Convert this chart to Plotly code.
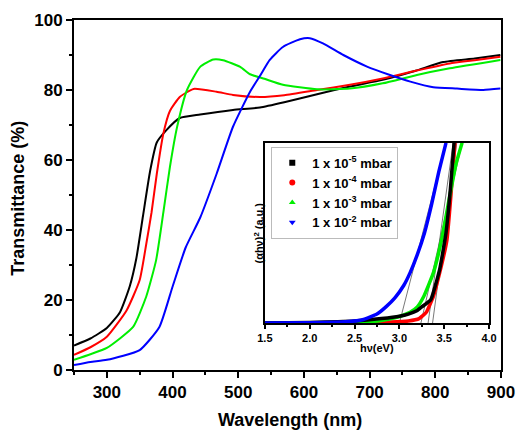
import plotly.graph_objects as go

# ---------------- main panel data: transmittance (%) vs wavelength (nm)
wl_black = [250, 275, 300, 320, 335, 345, 355, 366, 376, 391, 411, 442, 492, 533, 570, 620, 670, 720, 770, 812, 860, 899]
t_black = [7, 9, 12, 16.5, 24, 32, 44, 57, 65, 68.6, 72, 73, 74.3, 75, 76.5, 78.8, 81, 82.9, 85.5, 88, 89, 90]

wl_red = [250, 275, 300, 330, 350, 360, 368, 376, 386, 396, 411, 432, 467, 492, 533, 570, 620, 670, 720, 770, 822, 860, 899]
t_red = [4.3, 6.5, 9.5, 17, 25.7, 36, 45, 56, 67.5, 74, 78, 80.3, 79.5, 78.6, 78, 78.5, 80, 81.5, 83.3, 85.5, 87.6, 88.5, 89.5]

wl_green = [250, 275, 300, 340, 360, 375, 386, 396, 407, 422, 442, 462, 477, 503, 518, 540, 568, 620, 670, 720, 772, 822, 899]
t_green = [2.9, 4.5, 6.3, 12.3, 21, 31.4, 45, 58, 69.5, 80, 86.6, 88.7, 88.5, 86.6, 84.5, 83.2, 81.5, 80.2, 80.4, 81.9, 84.3, 86.2, 88.6]

wl_blue = [250, 275, 300, 350, 380, 400, 420, 442, 467, 492, 518, 533, 548, 568, 594, 609, 629, 660, 696, 731, 762, 797, 833, 873, 899]
t_blue = [1.4, 2.3, 2.9, 5.7, 12.3, 23.8, 35, 43.5, 56, 69.5, 79.5, 84, 88.6, 92.3, 94.5, 94.8, 93.3, 90, 86.7, 84.3, 82.4, 80.8, 80.4, 80, 80.4]

# ---------------- inset data: (alpha h nu)^2 (a.u.) vs h nu (eV)
ev_black = [1.5, 2.0, 2.5, 2.8, 3.0, 3.1, 3.2, 3.25, 3.35, 3.45, 3.52, 3.57, 3.61]
a_black = [0, 0.4, 1.2, 2.5, 3.8, 5, 7, 9, 13, 30, 50, 75, 100]

ev_red = [1.5, 2.5, 2.9, 3.1, 3.22, 3.3, 3.38, 3.45, 3.53, 3.58, 3.62]
a_red = [0, 0.2, 0.6, 1.2, 2.5, 6, 15, 28, 46, 74, 100]

ev_green = [1.5, 2.5, 2.8, 2.95, 3.05, 3.12, 3.2, 3.27, 3.38, 3.47, 3.56, 3.63, 3.7]
a_green = [0, 0.3, 1.5, 3, 4.5, 6, 9, 14.6, 28, 46, 70, 88, 100]

ev_blue = [1.5, 2.0, 2.4, 2.6, 2.75, 2.85, 2.95, 3.05, 3.12, 3.2, 3.28, 3.36, 3.44, 3.52]
a_blue = [0, 0.2, 0.7, 2, 5, 9, 14, 21, 28, 38, 50, 66, 84, 100]

# tangent (extrapolation) lines: baseline intercept and top end
tan_start = [3.0, 3.24, 3.32, 3.37]
tan_end = [3.52, 3.70, 3.60, 3.64]
tan_levels = [0, 100]

legend_labels = ["1 x 10<sup>-5</sup> mbar", "1 x 10<sup>-4</sup> mbar",
                 "1 x 10<sup>-3</sup> mbar", "1 x 10<sup>-2</sup> mbar"]
colors = ["#000000", "#ff0000", "#00ee00", "#0000ff"]
symbols = ["square", "circle", "triangle-up", "triangle-down"]

FONT = "Liberation Sans, Arial, sans-serif"

fig = go.Figure()

main = [(wl_black, t_black), (wl_red, t_red), (wl_green, t_green), (wl_blue, t_blue)]
for (x, y), c in zip(main, colors):
    fig.add_trace(go.Scatter(x=x, y=y, mode="lines",
                             line=dict(color=c, width=2, shape="spline", smoothing=0.5),
                             showlegend=False, xaxis="x", yaxis="y"))

# tangent lines in inset
for x0, x1 in zip(tan_start, tan_end):
    fig.add_trace(go.Scatter(x=[x0, x1], y=tan_levels, mode="lines",
                             line=dict(color="#555555", width=0.8),
                             showlegend=False, xaxis="x2", yaxis="y2"))

inset = [(ev_black, a_black), (ev_red, a_red), (ev_green, a_green), (ev_blue, a_blue)]
order = [1, 2, 0, 3]
for i in order:
    x, y = inset[i]
    fig.add_trace(go.Scatter(x=x, y=y, mode="lines",
                             line=dict(color=colors[i], width=3.5, shape="spline", smoothing=0.4),
                             showlegend=False, xaxis="x2", yaxis="y2"))

for lab, c, s in zip(legend_labels, colors, symbols):
    fig.add_trace(go.Scatter(x=[None], y=[None], mode="markers", name=lab,
                             marker=dict(color=c, symbol=s, size=6),
                             xaxis="x2", yaxis="y2"))

fig.update_layout(
    width=518, height=431,
    margin=dict(l=74, r=17, t=20, b=61, autoexpand=False),
    paper_bgcolor="white", plot_bgcolor="white",
    font=dict(family=FONT, color="black"),
    xaxis=dict(range=[250, 900], dtick=100, tick0=300, showgrid=False, zeroline=False,
               automargin=False,
               showline=True, linecolor="black", linewidth=2, mirror=True,
               ticks="outside", ticklen=6, tickwidth=2, tickcolor="black",
               minor=dict(dtick=50, ticks="outside", ticklen=3, tickwidth=2, tickcolor="black"),
               tickfont=dict(size=17, weight="bold")),
    yaxis=dict(range=[0, 100], dtick=20, showgrid=False, zeroline=False,
               automargin=False,
               showline=True, linecolor="black", linewidth=2, mirror=True,
               ticks="outside", ticklen=6, tickwidth=2, tickcolor="black",
               minor=dict(dtick=10, ticks="outside", ticklen=3, tickwidth=2, tickcolor="black"),
               tickfont=dict(size=17, weight="bold")),
    xaxis2=dict(domain=[0.447, 0.972], anchor="y2", range=[1.5, 4.0], dtick=0.5,
                automargin=False,
                showgrid=False, zeroline=False, showline=True, linecolor="black", linewidth=1.5,
                mirror=True, ticks="outside", ticklen=4, tickwidth=1.5, tickcolor="black",
                tickformat=".1f",
                minor=dict(dtick=0.25, ticks="outside", ticklen=2, tickwidth=1.5, tickcolor="black"),
                tickfont=dict(size=11, weight="bold")),
    yaxis2=dict(domain=[0.134, 0.649], anchor="x2", range=[0, 100],
                automargin=False,
                showgrid=False, zeroline=False, showline=True, linecolor="black", linewidth=1.5,
                mirror=True, ticks="", showticklabels=False),
    legend=dict(x=0.462, y=0.638, xanchor="left", yanchor="top",
                bgcolor="white", bordercolor="#bbbbbb", borderwidth=1,
                font=dict(size=13, weight="bold"), itemwidth=30,
                tracegroupgap=0),
    annotations=[
        dict(text="Wavelength (nm)", xref="paper", yref="paper", x=0.506, y=-0.143,
             xanchor="center", yanchor="middle", showarrow=False,
             font=dict(size=18, weight="bold")),
        dict(text="Transmittance (%)", xref="paper", yref="paper", x=-0.133, y=0.49,
             xanchor="center", yanchor="middle", textangle=-90, showarrow=False,
             font=dict(size=18, weight="bold")),
        dict(text="hν(eV)", xref="paper", yref="paper", x=0.71, y=0.063,
             xanchor="center", yanchor="middle", showarrow=False,
             font=dict(size=11, weight="bold")),
        dict(text="(αhν)<sup>2</sup> (a.u.)", xref="paper", yref="paper", x=0.431, y=0.39,
             xanchor="center", yanchor="middle", textangle=-90, showarrow=False,
             font=dict(size=11, weight="bold")),
    ],
)

fig.write_html("out.html", config={"displayModeBar": False},
               post_script="document.body.style.margin='0';document.body.style.padding='0';"
                           "document.documentElement.style.overflow='hidden';")
